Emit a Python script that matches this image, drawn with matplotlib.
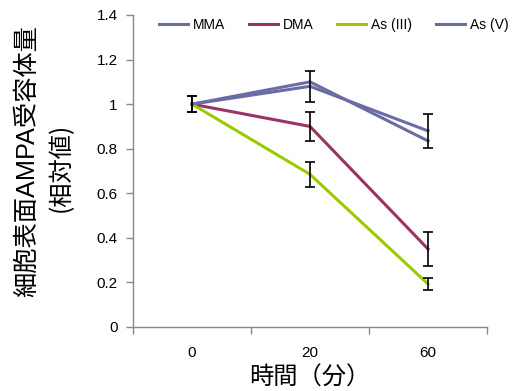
import matplotlib
matplotlib.use("Agg")
import matplotlib.pyplot as plt
import numpy as np

categories = ["0", "20", "60"]
series_names = ["MMA", "DMA", "As (III)", "As (V)"]
mma = [1.0, 1.08, 0.88]
mma_err = [0.037, 0.07, 0.078]
dma = [1.0, 0.90, 0.35]
dma_err = [0.037, 0.064, 0.076]
as3 = [1.0, 0.685, 0.193]
as3_err = [0.037, 0.055, 0.028]
as5 = [1.0, 1.10, 0.835]
colors = ["#6B6BA5", "#9B3266", "#99CC00", "#6B6BA5"]
yticks = [0, 0.2, 0.4, 0.6, 0.8, 1, 1.2, 1.4]
ytick_labels = ["0", "0.2", "0.4", "0.6", "0.8", "1", "1.2", "1.4"]

plt.rcParams['font.family'] = ['Liberation Sans', 'DejaVu Sans']
cjk = ['Noto Sans CJK JP', 'DejaVu Sans']
mixed = ['Liberation Sans', 'Noto Sans CJK JP', 'DejaVu Sans']

fig = plt.figure(figsize=(5.21, 3.91), dpi=100)
ax = fig.add_axes([133/521, 1-327/391, (487-133)/521, (327-15)/391])

x = np.arange(len(categories))
data = [mma, dma, as3, as5]
errs = [mma_err, dma_err, as3_err, None]
for vals, c, name in zip(data, colors, series_names):
    ax.plot(x, vals, color=c, lw=2.2, label=name, zorder=3)
for vals, err in zip(data, errs):
    if err is not None:
        ax.errorbar(x, vals, yerr=err, fmt='none', ecolor='black',
                    elinewidth=1.2, capsize=3.5, capthick=1.2, zorder=4)

ax.set_xlim(-0.5, 2.5)
ax.set_ylim(0, 1.4)
ax.set_yticks(yticks)
ax.set_yticklabels(ytick_labels, fontsize=11)
ax.set_xticks(x)
ax.set_xticklabels(categories, fontsize=11)
ax.set_xticks([-0.5, 0.5, 1.5, 2.5], minor=True)
ax.tick_params(axis='x', which='major', length=0, pad=14)
ax.tick_params(axis='x', which='minor', length=5, direction='out', color='#888888', width=1)
ax.tick_params(axis='y', length=5, direction='out', color='#888888', width=1, pad=6)
for s in ['top', 'right']:
    ax.spines[s].set_visible(False)
for s in ['left', 'bottom']:
    ax.spines[s].set_color('#888888')
    ax.spines[s].set_linewidth(1)

fig.text(310/521, 1-378/391, "時間（分）", family=cjk, fontsize=17.5,
         ha='center', va='center')

fig.text(27/521, 1-161/391, "細胞表面AMPA受容体量", family=mixed, fontsize=18.2,
         rotation=90, ha='center', va='center')
fig.text(61/521, 1-167/391, "(相対値)", family=cjk, fontsize=17.5,
         rotation=90, ha='center', va='center')

leg = ax.legend(loc='center', bbox_to_anchor=(0.567, 0.968), ncol=4, frameon=False,
                fontsize=10, handlelength=2.1, handletextpad=0.35,
                columnspacing=1.7, borderaxespad=0)

fig.savefig("out.png", dpi=100)
